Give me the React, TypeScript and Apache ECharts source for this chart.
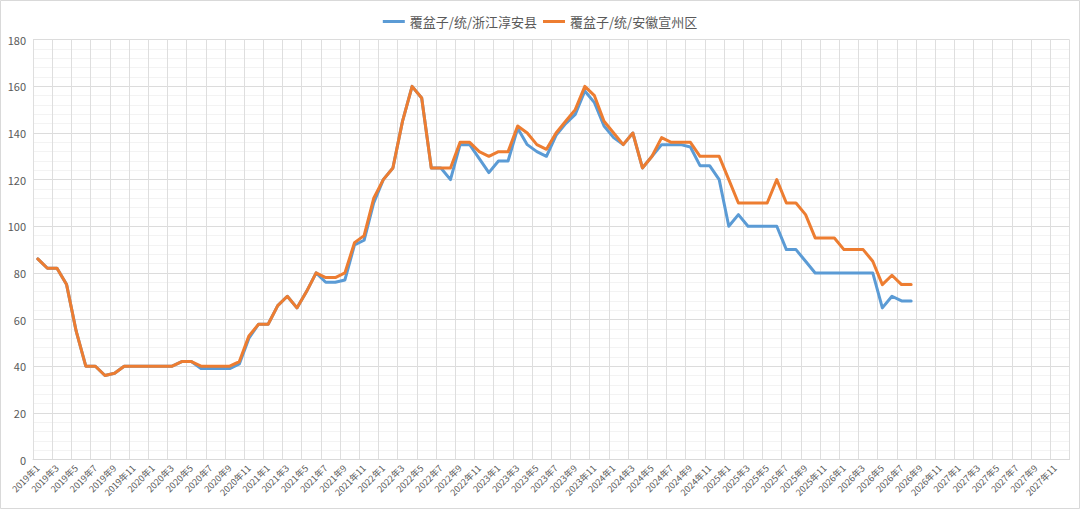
import React, { useEffect, useRef } from "react";
import * as echarts from "echarts";

const years = [2019, 2020, 2021, 2022, 2023, 2024, 2025, 2026, 2027];
const months = [1, 2, 3, 4, 5, 6, 7, 8, 9, 10, 11, 12];
const categories: string[] = [];
years.forEach((y) => months.forEach((m) => categories.push(`${y}年${m}`)));

const seriesNames = ["覆盆子/统/浙江淳安县", "覆盆子/统/安徽宣州区"];

const chunanValues = [
  86, 82, 82, 75, 55, 40, 40, 36, 37, 40,
  40, 40, 40, 40, 40, 42, 42, 39, 39, 39,
  39, 41, 52, 58, 58, 66, 70, 65, 72, 80,
  76, 76, 77, 92, 94, 110, 120, 125, 145, 160,
  155, 125, 125, 120, 135, 135, 129, 123, 128, 128,
  142, 135, 132, 130, 139, 144, 148, 158, 153, 143,
  138, 135, 140, 125, 130, 135, 135, 135, 134, 126,
  126, 120, 100, 105, 100, 100, 100, 100, 90, 90,
  85, 80, 80, 80, 80, 80, 80, 80, 65, 70,
  68, 68,
];

const xuanzhouValues = [
  86, 82, 82, 75, 55, 40, 40, 36, 37, 40,
  40, 40, 40, 40, 40, 42, 42, 40, 40, 40,
  40, 42, 53, 58, 58, 66, 70, 65, 72, 80,
  78, 78, 80, 93, 96, 112, 120, 125, 145, 160,
  155, 125, 125, 125, 136, 136, 132, 130, 132, 132,
  143, 140, 135, 133, 140, 145, 150, 160, 156, 145,
  140, 135, 140, 125, 130, 138, 136, 136, 136, 130,
  130, 130, 120, 110, 110, 110, 110, 120, 110, 110,
  105, 95, 95, 95, 90, 90, 90, 85, 75, 79,
  75, 75,
];

const colors = ["#5B9BD5", "#ED7D31"];

export default function App() {
  const ref = useRef<HTMLDivElement>(null);
  useEffect(() => {
    document.body.style.margin = "0";
    const chart = echarts.init(ref.current!, undefined, { renderer: "svg" });
    chart.setOption({
      animation: false,
      backgroundColor: "#ffffff",
      color: colors,
      textStyle: { fontFamily: "'Noto Sans CJK SC', 'Noto Sans', sans-serif" },
      graphic: [
        {
          type: "rect",
          shape: { x: 0.5, y: 0.5, width: 1079, height: 508 },
          style: { fill: "none", stroke: "#d9d9d9", lineWidth: 1 },
          silent: true,
        },
      ],
      legend: {
        top: 10,
        left: "center",
        itemWidth: 22,
        itemHeight: 3,
        itemGap: 6,
        icon: "rect",
        textStyle: { fontSize: 13, color: "#595959", fontFamily: "'Noto Sans CJK SC', sans-serif" },
        data: seriesNames,
      },
      grid: { left: 33, right: 10.5, top: 39.7, bottom: 49.5, containLabel: false },
      xAxis: {
        type: "category",
        data: categories,
        boundaryGap: true,
        axisLine: { show: true, lineStyle: { color: "#d9d9d9" } },
        axisTick: { show: false, interval: 1 },
        axisLabel: {
          interval: 1,
          rotate: 45,
          fontSize: 9,
          color: "#595959",
          margin: 7,
        },
        splitLine: { show: true, interval: 1, lineStyle: { color: "#dedede", width: 1 } },
      },
      yAxis: {
        type: "value",
        min: 0,
        max: 180,
        interval: 20,
        axisLine: { show: false },
        axisTick: { show: false },
        axisLabel: { fontSize: 11, color: "#595959", margin: 7 },
        splitLine: { show: true, lineStyle: { color: "#dcdcdc", width: 1 } },
        minorTick: { show: false, splitNumber: 5 },
        minorSplitLine: { show: true, lineStyle: { color: "#f3f3f3", width: 1 } },
      },
      series: [
        {
          name: seriesNames[0],
          type: "line",
          data: chunanValues,
          symbol: "none",
          lineStyle: { width: 3, color: colors[0], cap: "round", join: "round" },
          itemStyle: { color: colors[0] },
        },
        {
          name: seriesNames[1],
          type: "line",
          data: xuanzhouValues,
          symbol: "none",
          lineStyle: { width: 3, color: colors[1], cap: "round", join: "round" },
          itemStyle: { color: colors[1] },
        },
      ],
    });
    return () => chart.dispose();
  }, []);
  return <div ref={ref} style={{ width: 1080, height: 509 }} />;
}
